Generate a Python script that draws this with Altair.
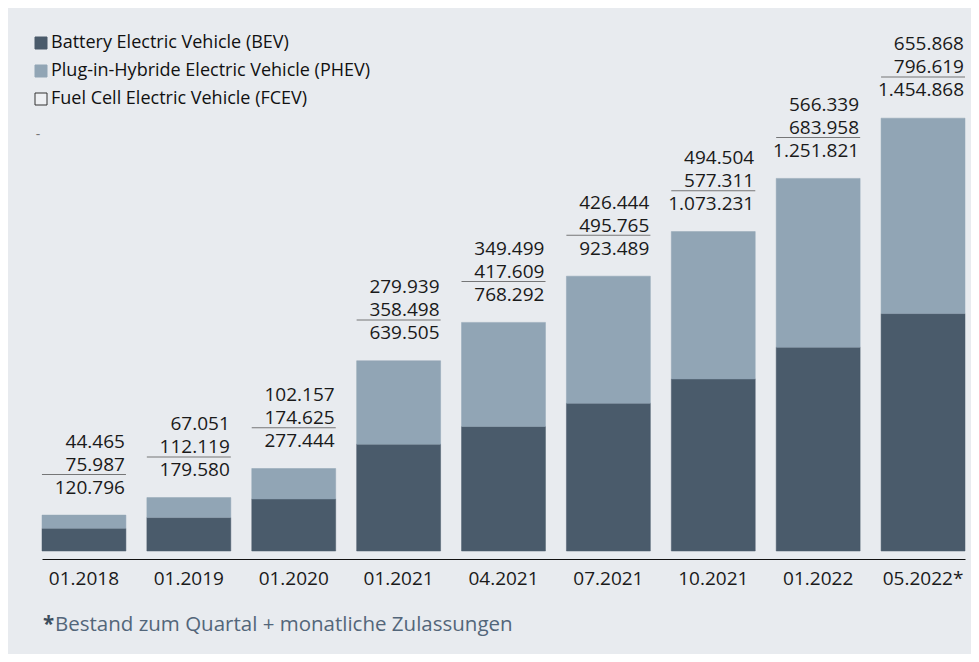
import altair as alt
import pandas as pd

categories = ["01.2018", "01.2019", "01.2020", "01.2021", "04.2021",
              "07.2021", "10.2021", "01.2022", "05.2022*"]
phev = [44465, 67051, 102157, 279939, 349499, 426444, 494504, 566339, 655868]
bev = [75987, 112119, 174625, 358498, 417609, 495765, 577311, 683958, 796619]
total = [120796, 179580, 277444, 639505, 768292, 923489, 1073231, 1251821, 1454868]
series = ["Battery Electric Vehicle (BEV)",
          "Plug-in-Hybride Electric Vehicle (PHEV)",
          "Fuel Cell Electric Vehicle (FCEV)"]
fills = ["#4a5b6b", "#91a5b5", "#eef0f3"]
strokes = ["#4a5b6b", "#91a5b5", "#333333"]
footnote_star = "*"
footnote_text = "Bestand zum Quartal + monatliche Zulassungen"


def de(v):
    return f"{v:,}".replace(",", ".")


long = pd.DataFrame({
    "cat": categories * 2,
    "series": [series[0]] * len(categories) + [series[1]] * len(categories),
    "value": bev + phev,
    "order": [0] * len(categories) + [1] * len(categories),
})
wide = pd.DataFrame({
    "cat": categories,
    "total": total,
    "phev_l": [de(v) for v in phev],
    "bev_l": [de(v) for v in bev],
    "total_l": [de(v) for v in total],
})

FONT = "Open Sans"
xscale = alt.Scale(paddingInner=0.2, paddingOuter=0)
yscale = alt.Scale(domain=[0, 1500000], nice=False)

legend = alt.Legend(title=None, orient="none", legendX=-10, legendY=-70,
                    symbolType="square", symbolSize=144, symbolStrokeWidth=1,
                    labelFont=FONT, labelFontSize=18, labelColor="#111111",
                    labelOffset=1, rowPadding=10, padding=0, labelLimit=600)

x_axis = alt.Axis(title=None, labelAngle=0, ticks=False, tickSize=0, offset=8,
                  domainColor="#111111", domainWidth=1, labelFont=FONT,
                  labelFontSize=19, labelColor="#1a1a1a", labelPadding=10, grid=False)

bars = alt.Chart(long).mark_bar(strokeWidth=0.5).encode(
    x=alt.X("cat:N", sort=categories, scale=xscale, axis=x_axis),
    y=alt.Y("value:Q", stack="zero", scale=yscale, axis=None),
    fill=alt.Fill("series:N", scale=alt.Scale(domain=series, range=fills), legend=legend),
    stroke=alt.Stroke("series:N", scale=alt.Scale(domain=series, range=strokes), legend=legend),
    order=alt.Order("order:Q"),
)

xr = alt.X("cat:N", sort=categories, bandPosition=1)
text_props = dict(font=FONT, fontSize=19, color="#1a1a1a", align="right",
                  baseline="middle", dx=-1)

t_total = alt.Chart(wide).mark_text(dy=-27, **text_props).encode(
    x=xr, y=alt.Y("total:Q"), text="total_l:N")
t_bev = alt.Chart(wide).mark_text(dy=-50, **text_props).encode(
    x=xr, y=alt.Y("total:Q"), text="bev_l:N")
t_phev = alt.Chart(wide).mark_text(dy=-73, **text_props).encode(
    x=xr, y=alt.Y("total:Q"), text="phev_l:N")

lines = alt.Chart(wide).mark_tick(color="#444444", thickness=1, size=84,
                                  yOffset=-40.5, orient="horizontal").encode(
    x=alt.X("cat:N", sort=categories), y=alt.Y("total:Q"))

dash = alt.Chart(pd.DataFrame({"t": ["-"]})).mark_text(
    font=FONT, fontSize=14, color="#777777", align="center", baseline="middle").encode(
    x=alt.value(-4), y=alt.value(31), text="t:N")

foot_star = alt.Chart(pd.DataFrame({"t": [footnote_star]})).mark_text(
    font=FONT, fontSize=20.5, fontWeight="bold", color="#3d4d5d", align="left",
    baseline="middle").encode(x=alt.value(1), y=alt.value(521), text="t:N")
foot = alt.Chart(pd.DataFrame({"t": [footnote_text]})).mark_text(
    font=FONT, fontSize=20.5, color="#53667a", align="left",
    baseline="middle").encode(x=alt.value(13), y=alt.value(521), text="t:N")

chart = alt.layer(bars, lines, t_total, t_bev, t_phev, dash, foot_star, foot).properties(
    width=923, height=447,
    padding={"left": 34, "top": 96, "right": 6, "bottom": 103},
    autosize=alt.AutoSizeParams(type="none"),
    background="#e8ebef",
).configure_view(stroke=None)

chart.save("out.html", embed_options={"renderer": "svg", "actions": False})
